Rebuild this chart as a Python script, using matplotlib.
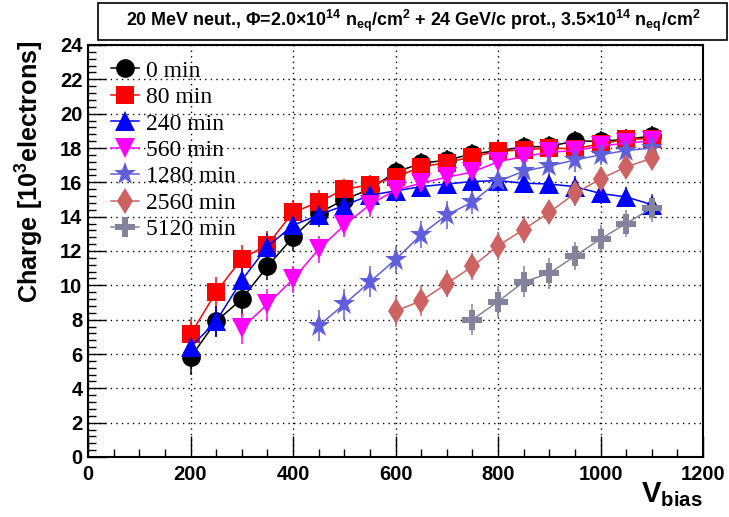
import matplotlib
matplotlib.use("Agg")
import matplotlib.pyplot as plt
from matplotlib.ticker import MultipleLocator
from matplotlib.patches import Rectangle
from matplotlib.lines import Line2D

plt.rcParams['font.family'] = ['Liberation Sans', 'DejaVu Sans']
plt.rcParams['mathtext.fontset'] = 'custom'
plt.rcParams['mathtext.rm'] = 'Liberation Sans:bold'
plt.rcParams['mathtext.bf'] = 'Liberation Sans:bold'
plt.rcParams['mathtext.it'] = 'Liberation Sans:bold'
plt.rcParams['mathtext.default'] = 'rm'

# ---- data ----
v_0 = [200, 250, 300, 350, 400, 450, 500, 550, 600, 650, 700, 750, 800, 850, 900, 950, 1000, 1050, 1100]
q_0 = [5.8, 7.9, 9.2, 11.1, 12.8, 14.2, 15.0, 15.6, 16.6, 17.1, 17.3, 17.65, 17.85, 18.05, 18.1, 18.4, 18.4, 18.5, 18.7]
e_0 = [1.0, 0.9, 0.9, 0.8, 0.8, 0.7, 0.7, 0.6, 0.6, 0.6, 0.6, 0.6, 0.6, 0.6, 0.6, 0.6, 0.6, 0.6, 0.6]

v_80 = [200, 250, 300, 350, 400, 450, 500, 550, 600, 650, 700, 750, 800, 850, 900, 950, 1000, 1050, 1100]
q_80 = [7.15, 9.6, 11.55, 12.35, 14.25, 14.85, 15.6, 15.85, 16.3, 16.9, 17.15, 17.5, 17.8, 17.9, 18.0, 17.95, 18.25, 18.5, 18.55]
e_80 = [0.9, 0.9, 0.8, 0.8, 0.7, 0.7, 0.6, 0.6, 0.6, 0.6, 0.6, 0.6, 0.6, 0.6, 0.6, 0.6, 0.6, 0.6, 0.6]

v_240 = [200, 250, 300, 350, 400, 450, 500, 550, 600, 650, 700, 750, 800, 850, 900, 950, 1000, 1050, 1100]
q_240 = [6.4, 7.9, 10.3, 12.25, 13.5, 14.1, 14.65, 15.25, 15.5, 15.75, 15.9, 16.05, 16.1, 15.95, 15.9, 15.75, 15.35, 15.15, 14.7]
e_240 = [0.9, 0.9, 0.8, 0.8, 0.7, 0.7, 0.7, 0.6, 0.6, 0.6, 0.6, 0.6, 0.6, 0.6, 0.6, 0.6, 0.6, 0.6, 0.6]

v_560 = [300, 350, 400, 450, 500, 550, 600, 650, 700, 750, 800, 850, 900, 950, 1000, 1050, 1100]
q_560 = [7.5, 8.9, 10.35, 12.1, 13.5, 14.7, 15.55, 15.95, 16.3, 16.6, 17.2, 17.5, 17.75, 17.85, 18.1, 18.3, 18.4]
e_560 = [0.9, 0.9, 0.8, 0.8, 0.7, 0.7, 0.6, 0.6, 0.6, 0.6, 0.6, 0.6, 0.6, 0.6, 0.6, 0.6, 0.6]

v_1280 = [450, 500, 550, 600, 650, 700, 750, 800, 850, 900, 950, 1000, 1050, 1100]
q_1280 = [7.65, 8.9, 10.2, 11.5, 12.95, 14.1, 14.85, 16.05, 16.65, 16.95, 17.3, 17.6, 17.85, 18.0]
e_1280 = [0.9, 0.9, 0.9, 0.8, 0.8, 0.8, 0.7, 0.7, 0.7, 0.7, 0.7, 0.6, 0.6, 0.6]

v_2560 = [600, 650, 700, 750, 800, 850, 900, 950, 1000, 1050, 1100]
q_2560 = [8.5, 9.1, 10.1, 11.1, 12.3, 13.25, 14.25, 15.35, 16.2, 16.9, 17.4]
e_2560 = [0.9, 0.9, 0.8, 0.8, 0.8, 0.8, 0.7, 0.7, 0.7, 0.6, 0.6]

v_5120 = [750, 800, 850, 900, 950, 1000, 1050, 1100]
q_5120 = [8.0, 9.05, 10.2, 10.7, 11.7, 12.7, 13.6, 14.5]
e_5120 = [0.9, 0.9, 0.9, 0.9, 0.8, 0.8, 0.8, 0.8]

labels = ["0 min", "80 min", "240 min", "560 min", "1280 min", "2560 min", "5120 min"]
x_ticks = [0, 200, 400, 600, 800, 1000, 1200]
y_ticks = [0, 2, 4, 6, 8, 10, 12, 14, 16, 18, 20, 22, 24]

series = [
    (v_0, q_0, e_0, 'o', '#000000', 13.5),
    (v_80, q_80, e_80, 's', '#ff0000', 13),
    (v_240, q_240, e_240, '^', '#0000ff', 14),
    (v_560, q_560, e_560, 'v', '#ff00ff', 14),
    (v_1280, q_1280, e_1280, '*', '#5f5fdc', 17),
    (v_2560, q_2560, e_2560, 'd', '#cd6262', 13),
    (v_5120, q_5120, e_5120, 'P', '#83839e', 15),
]

W, H = 729, 517
fig = plt.figure(figsize=(W / 100, H / 100), dpi=100)
ax = fig.add_axes([88 / W, 1 - 457 / H, (703 - 88) / W, (457 - 45) / H])

handles = []
for (vx, qy, ey, mk, col, ms), lab in zip(series, labels):
    ax.errorbar(vx, qy, yerr=ey, fmt='-' + mk, color=col, ecolor=col, markersize=ms,
                markeredgewidth=0, linewidth=1.1, elinewidth=1.1, capsize=3,
                capthick=1.1)
    handles.append(Line2D([], [], marker=mk, color=col, markersize=ms,
                          markeredgewidth=0, linewidth=1.1, label=lab))

ax.set_xlim(x_ticks[0], x_ticks[-1])
ax.set_ylim(y_ticks[0], y_ticks[-1])
ax.set_xticks(x_ticks)
ax.set_yticks(y_ticks)
ax.xaxis.set_minor_locator(MultipleLocator(50))
ax.yaxis.set_minor_locator(MultipleLocator(0.4))
ax.tick_params(which='both', direction='in', top=False, right=False)
ax.tick_params(which='major', length=13, width=1)
ax.tick_params(which='minor', length=6, width=1)
ax.tick_params(axis='x', which='major', length=15)
for lb in ax.get_xticklabels() + ax.get_yticklabels():
    lb.set_fontweight('bold')
    lb.set_fontsize(14.5)
ax.tick_params(axis='x', pad=6)
ax.tick_params(axis='y', pad=4)
ax.grid(True, which='major', color='black', linestyle=(0, (1, 3)), linewidth=1)
for s in ax.spines.values():
    s.set_linewidth(1.5)

leg = ax.legend(handles=handles, loc='upper left', bbox_to_anchor=(111 / W, 1 - 60 / H),
                bbox_transform=fig.transFigure, frameon=False,
                prop={'family': 'Liberation Serif', 'size': 17},
                handlelength=1.2, handletextpad=0.3, labelspacing=0.21,
                borderpad=0, borderaxespad=0, numpoints=1)

fig.text(30 / W, 1 - 40 / H, r"Charge [10$^{3}$electrons]", rotation=90,
         ha='center', va='top', fontsize=18.2, fontweight='bold')
fig.text(703 / W, 1 - 495 / H, r"V$_{\mathbf{bias}}$", ha='right', va='center',
         fontsize=21, fontweight='bold')

fig.patches.append(Rectangle((98 / W, 1 - 40 / H), (727 - 98) / W, 37 / H,
                             transform=fig.transFigure, facecolor='white',
                             edgecolor='black', linewidth=1.2))
fig.text(413 / W, 1 - 21 / H,
         r"20 MeV neut., Φ=2.0×10$^{14}$ n$_{eq}$/cm$^{2}$ + 24 GeV/c prot., 3.5×10$^{14}$ n$_{eq}$/cm$^{2}$",
         ha='center', va='center', fontsize=12.9, fontweight='bold')

fig.savefig("out.png", dpi=100)
